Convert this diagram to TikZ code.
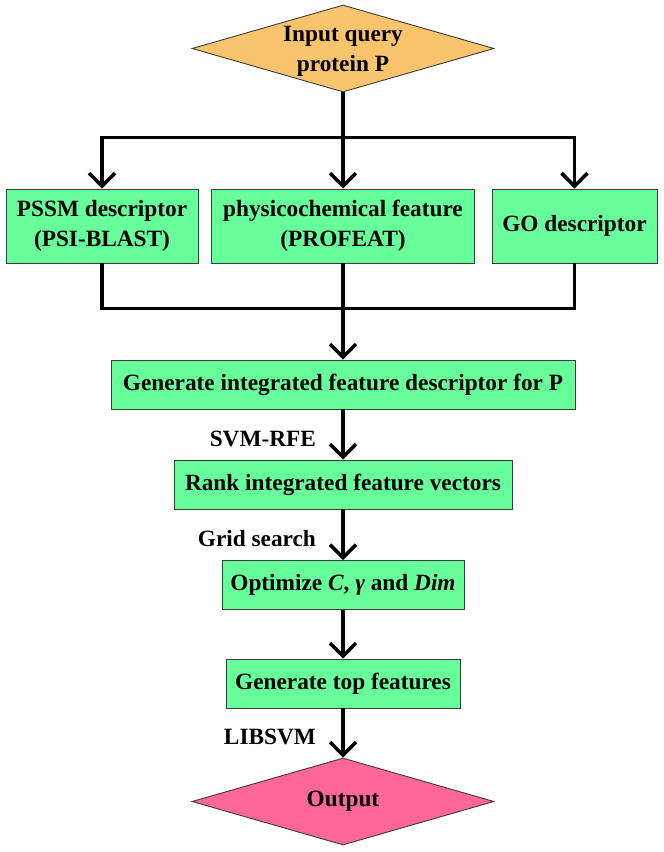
\documentclass[tikz,border=0pt]{standalone}
\usepackage{fontspec}
\setmainfont{Liberation Serif}
\usepackage{tikz}
\usetikzlibrary{arrows.meta,positioning,shapes.geometric}
\usepackage{xcolor}
\definecolor{inputcol}{RGB}{250,196,108}
\definecolor{boxcol}{RGB}{102,255,153}
\definecolor{outcol}{RGB}{255,102,153}
\definecolor{edgecol}{RGB}{60,60,60}

\begin{document}
\begin{tikzpicture}[x=1pt,y=1pt,font=\fontsize{23.3}{30}\selectfont\bfseries]
	\useasboundingbox (0,0) rectangle (664,852);
	\begin{scope}[every node/.style={rectangle,draw=edgecol,line width=0.9pt,fill=boxcol,align=center,inner sep=0pt,minimum height=49pt}]
		\node[diamond,fill=inputcol,minimum width=302pt,minimum height=87pt,label={[draw=none,fill=none,align=center,yshift=-3pt]center:Input query\\protein P}] (Input) at (343,803.5) {};
		\node[minimum width=192pt,minimum height=74pt] (PSSM) at (102,626) {PSSM descriptor\\(PSI-BLAST)};
		\node[minimum width=263pt,minimum height=74pt] (Phys) at (343,626) {physicochemical feature\\(PROFEAT)};
		\node[minimum width=165pt,minimum height=74pt] (GO) at (574.5,626) {GO descriptor};
		\node[minimum width=464pt] (Integ) at (343,467.5) {Generate integrated feature descriptor for P};
		\node[minimum width=338pt] (Rank) at (343,367.5) {Rank integrated feature vectors};
		\node[minimum width=242pt] (Opt) at (343,267) {Optimize \textit{C}, \textit{γ} and \textit{Dim}};
		\node[minimum width=234pt] (Top) at (343,168.5) {Generate top features};
		\node[diamond,fill=outcol,minimum width=302pt,minimum height=87pt,label={[draw=none,fill=none]center:Output}] (Output) at (343,50.5) {};
	\end{scope}

	\begin{scope}[line width=3.5pt,arr/.style={-{Straight Barb[length=13pt,width=26pt]}}]
	\draw (Input.south) -- ++(0,-45) coordinate (fork);
	\draw[arr] (fork) -| (PSSM.north);
	\draw[arr] (fork) -| (GO.north);
	\draw[arr] (fork) -- (Phys.north);
	\path (Phys.south) ++(0,-45) coordinate (join);
	\draw (PSSM.south) |- (join) -| (GO.south);
	\draw[arr] (Phys.south) -- (Integ.north);
	\draw[arr] (Integ) -- node[midway,left=22pt,yshift=-4pt]{SVM-RFE} (Rank);
	\draw[arr] (Rank) -- node[midway,left=22pt,yshift=-4pt]{Grid search} (Opt);
	\draw[arr] (Opt) -- (Top);
	\draw[arr] (Top) -- node[midway,left=22pt,yshift=-4pt]{LIBSVM} (Output);
	\end{scope}
\end{tikzpicture}
\end{document}
